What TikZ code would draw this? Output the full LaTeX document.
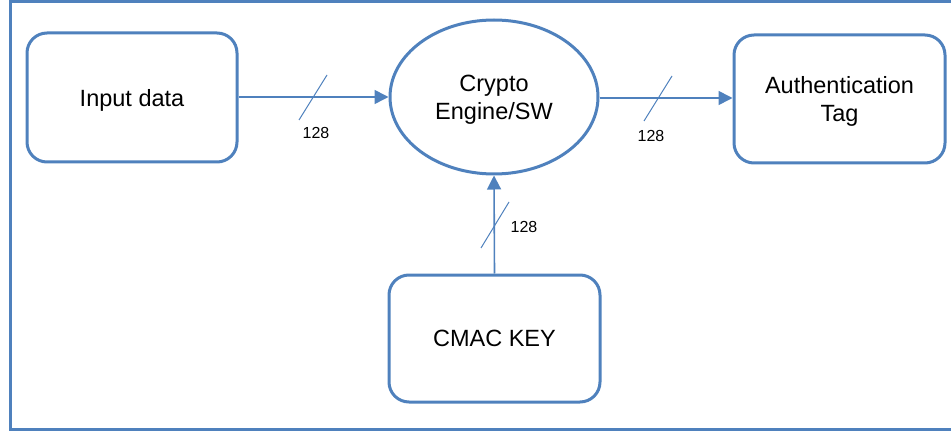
\documentclass[tikz,border=0pt]{standalone}
\usepackage{fontspec}
\setmainfont{Liberation Sans}
\usetikzlibrary{arrows.meta,shapes.geometric}
\definecolor{ofblue}{RGB}{79,129,189}
\begin{document}
\begin{tikzpicture}[x=1pt,y=-1pt,
  boxnode/.style={draw=ofblue,line width=3pt,rounded corners=20pt,align=center,
    font=\fontsize{23.5}{28}\selectfont,inner sep=0pt,text depth=0pt},
  ellnode/.style={draw=ofblue,line width=3pt,ellipse,align=center,
    font=\fontsize{23.5}{28}\selectfont,inner sep=0pt,text depth=0pt},
  conn/.style={draw=ofblue,line width=1.6pt,-{Triangle[length=14pt,width=14pt]}},
  slashline/.style={draw=ofblue,line width=1pt},
  buslabel/.style={font=\fontsize{16}{18}\selectfont,inner sep=0pt}]
\useasboundingbox (0,0) rectangle (951,433);
\draw[ofblue,line width=3pt] (960,2) -- (10,2) -- (10,429) -- (960,429);
\node[boxnode,minimum width=210pt,minimum height=129pt] (inp) at (132,97.5) {Input data};
\node[ellnode,minimum width=208pt,minimum height=154pt] (eng) at (494,97) {Crypto\\Engine/SW};
\node[boxnode,minimum width=211pt,minimum height=128pt] (tag) at (839.5,99) {Authentication\\Tag};
\node[boxnode,minimum width=211pt,minimum height=127pt] (key) at (494.5,338.5) {CMAC KEY};
\draw[conn] (inp.east |- 0,97) -- (eng.west |- 0,97);
\draw[conn] (eng.east |- 0,98) -- (tag.west |- 0,98);
\draw[conn] (key.north) -- (eng.south);
\coordinate (s1a) at (299,120); \coordinate (s1b) at (327,75);
\coordinate (s2a) at (644,121); \coordinate (s2b) at (672,76);
\coordinate (s3a) at (481,248); \coordinate (s3b) at (509,202);
\draw[slashline] (s1a) -- (s1b);
\draw[slashline] (s2a) -- (s2b);
\draw[slashline] (s3a) -- (s3b);
\node[buslabel] (l1) at (316,133) {128};
\node[buslabel] (l2) at (651,136) {128};
\node[buslabel] (l3) at (524,227) {128};
\end{tikzpicture}
\end{document}
